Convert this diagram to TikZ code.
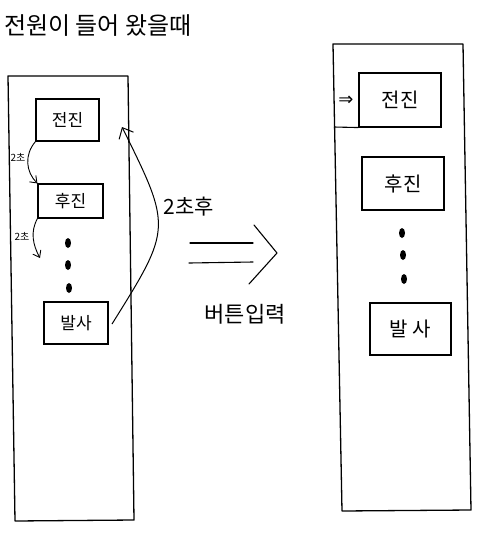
\documentclass[tikz,border=0pt]{standalone}
\usepackage{fontspec}
\usetikzlibrary{arrows.meta}
\newfontfamily\kr{Noto Sans CJK KR}
\newfontfamily\dv{DejaVu Sans}
\tikzset{
  panel/.style={draw, line width=1.3pt, line join=round},
  box/.style={draw, line width=1.1pt, inner sep=0pt, font=\kr\fontsize{17}{19}\selectfont},
  boxR/.style={box, font=\kr\fontsize{20}{22}\selectfont},
  lbl/.style={inner sep=0pt, font=\kr\fontsize{#1}{#1}\selectfont},
  dot/.style={fill, ellipse, inner sep=0pt, minimum width=6pt, minimum height=10pt},
  flow/.style={line width=0.9pt, -{Straight Barb[length=6pt, width=9pt]}},
  stroke/.style={line width=1.1pt, line cap=round}
}
\usetikzlibrary{shapes.geometric}
\begin{document}
\begin{tikzpicture}[x=1pt, y=-1pt]
\useasboundingbox (0,0) rectangle (486,547);
% title
\node[lbl=24] (title) at (98,26) {전원이 들어 왔을때};
% left panel
\coordinate (lp1) at (8,76);
\coordinate (lp2) at (128,76);
\coordinate (lp3) at (134,520);
\coordinate (lp4) at (15,521);
\draw[panel] (lp1) -- (lp2) -- (lp3) -- (lp4) -- cycle;
% right panel
\coordinate (rp1) at (333,44);
\coordinate (rp2) at (463,44);
\coordinate (rp3) at (471,510);
\coordinate (rp4) at (342,511);
\draw[panel] (rp1) -- (rp2) -- (rp3) -- (rp4) -- cycle;
% left boxes
\node[box, minimum width=63pt, minimum height=42pt] (fwdL) at (67.5,120) {전진};
\node[box, minimum width=65pt, minimum height=34pt] (bwdL) at (70.5,201) {후진};
\node[box, minimum width=64pt, minimum height=42pt] (fireL) at (76,323) {발사};
\node[dot] (dL1) at (68,243) {};
\node[dot] (dL2) at (68,265) {};
\node[dot] (dL3) at (69,288) {};
% left flow arrows
\coordinate (endL2) at (40,258);
\draw[flow] (fwdL.south west) .. controls (24,155) and (26,172) .. (bwdL.north west);
\node[lbl=10] (t2a) at (18,157) {2초};
\draw[flow] (bwdL.south west) .. controls (30,232) and (33,245) .. (endL2);
\node[lbl=10] (t2b) at (22,236) {2초};
% big loop arrow
\coordinate (loopStart) at (112,324);
\coordinate (loopTop) at (122,127);
\draw[flow, line width=1pt, -{Straight Barb[length=9pt, width=16pt]}] (loopStart) .. controls (172,228) .. (loopTop);
\node[lbl=21] (after) at (189,207) {2초후};
% big double arrow
\coordinate (a1) at (190,243);
\coordinate (a2) at (253,243);
\coordinate (b1) at (189,263);
\coordinate (b2) at (253,262);
\coordinate (h1) at (254,225);
\coordinate (h2) at (277,253);
\coordinate (h3) at (249,284);
\draw[stroke] (a1) -- (a2);
\draw[stroke] (b1) -- (b2);
\draw[stroke, line join=round] (h1) -- (h2) -- (h3);
\node[lbl=22] (btn) at (245,314) {버튼입력};
% right boxes
\node[boxR, minimum width=82pt, minimum height=54pt] (fwdR) at (400,100) {전진};
\node[boxR, minimum width=82pt, minimum height=53pt] (bwdR) at (403,183.5) {후진};
\node[boxR, minimum width=81pt, minimum height=52pt] (fireR) at (410.5,329) {발 사};
\node[dot] (dR1) at (402,233) {};
\node[dot] (dR2) at (403,255) {};
\node[dot] (dR3) at (404,279) {};
\coordinate (rpL) at (334,127);
\draw[line width=1.1pt] (fwdR.south west) -- (rpL);
\node[inner sep=0pt, font=\dv\fontsize{18}{18}\selectfont] (cur) at (346,101) {⇒};
\end{tikzpicture}
\end{document}
